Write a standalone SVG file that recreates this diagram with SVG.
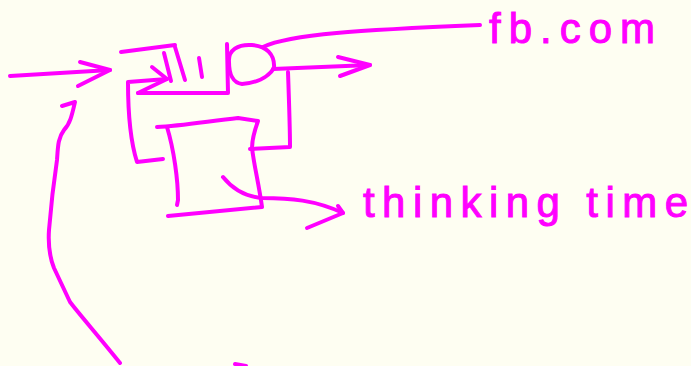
<svg xmlns="http://www.w3.org/2000/svg" width="691" height="366" viewBox="0 0 691 366">
<style>
.s{fill:none;stroke:#FF00FF;stroke-width:4;stroke-linecap:round;stroke-linejoin:round}
.t{fill:#FF00FF;stroke:#FF00FF;stroke-width:1;font-family:"Liberation Sans",Arial,sans-serif}
</style>
<rect width="691" height="366" fill="#FEFEF2"/>
<g id="queue">
<path class="s" d="M121,52 L175,45"/>
<path class="s" d="M164,53 L171,81"/>
<path class="s" d="M175,47 L185,80"/>
<path class="s" d="M199,58 L202,77"/>
<path class="s" d="M227,44 L228,93 L138,93"/>
</g>
<g id="server">
<path class="s" d="M229,62 C228,50 238,44 252,45 C266,46 275,54 274,68 C268,78 255,83 242,84 C233,83 229,74 229,62 Z"/>
</g>
<g id="thinking-box">
<path class="s" d="M157,127 C180,126 210,121 238,118 L258,121 C254,132 252,142 252,148 C254,165 259,185 262,207 L168,216"/>
<path class="s" d="M167,127 C174,150 178,180 178,200 L177,205"/>
</g>
<g id="labels">
<text class="t" x="489" y="43" font-size="42" textLength="166" lengthAdjust="spacing">fb.com</text>
<text class="t" x="363" y="217" font-size="42" textLength="325" lengthAdjust="spacing">thinking time</text>
</g>
<g id="connectors">
<path class="s" d="M10,76 L110,70"/>
<path class="s" d="M80,62 L110,70 L78,86"/>
<path class="s" d="M163,159 L137,162 C130,140 128,110 128,82 L167,79"/>
<path class="s" d="M152,67 L167,79 L138,93"/>
<path class="s" d="M263,47 C290,34 360,30 480,25"/>
<path class="s" d="M273,69 L370,65"/>
<path class="s" d="M338,57 L370,65 L340,76"/>
<path class="s" d="M288,72 C289,100 290,130 290,147 L250,149"/>
<path class="s" d="M223,177 C235,192 250,197 262,198 C290,198 315,200 343,213"/>
<path class="s" d="M338,206 L343,213 L307,228"/>
<path class="s" d="M62,106 L75,102 C72,115 70,124 64,130 C58,138 58,146 57,160 C54,180 51,205 49,230 C48,245 50,258 54,268 L70,302 C80,315 100,338 120,363"/>
<path class="s" d="M235,364 L246,366"/>
</g>
</svg>
